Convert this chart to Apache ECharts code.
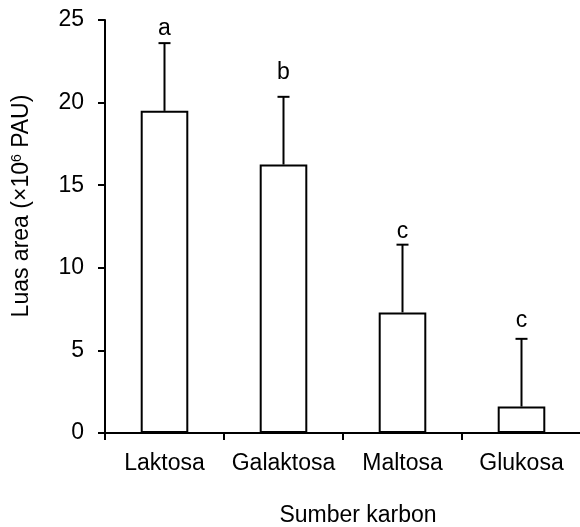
<!DOCTYPE html>
<html><head><meta charset="utf-8">
<script src="https://cdn.jsdelivr.net/npm/echarts@6/dist/echarts.min.js"></script>
<style>html,body{margin:0;padding:0;background:#fff;overflow:hidden}#c{width:580px;height:527px}</style>
</head><body><div id="c"></div>
<script>
const categories = ['Laktosa', 'Galaktosa', 'Maltosa', 'Glukosa'];
const means = [19.5, 16.25, 7.3, 1.6];
const errors = [4.1, 4.1, 4.1, 4.1];
const letters = ['a', 'b', 'c', 'c'];
const letterBaseline = [24.1, 21.4, 11.8, 6.4];
const yTicks = [0, 5, 10, 15, 20, 25];
const xTitle = 'Sumber karbon';
const yTitle = 'Luas area (×10{sup|6} PAU)';

const chart = echarts.init(document.getElementById('c'));
const font = 'Liberation Sans, Arial, sans-serif';
const FS = 23;
chart.setOption({
  animation: false,
  graphic: [
    { type: 'text', x: 358, y: 516, style: { text: xTitle, fill: '#000', fontSize: FS, fontFamily: font, align: 'center', verticalAlign: 'middle' } },
    { type: 'text', x: 22, y: 206, rotation: Math.PI / 2,
      style: { text: yTitle, fill: '#000', fontSize: FS, fontFamily: font, align: 'center', verticalAlign: 'middle',
        rich: { sup: { fontSize: 14, fontFamily: font, fill: '#000', verticalAlign: 'top', padding: [0, 0, 10, 0] } } } }
  ],
  grid: { left: 105, width: 476, top: 20, height: 413, containLabel: false, outerBoundsMode: 'none' },
  xAxis: {
    type: 'category', data: categories,
    axisLine: { lineStyle: { color: '#000', width: 2 } },
    axisTick: { show: true, interval: 0, length: 7, lineStyle: { color: '#000', width: 2 }, alignWithLabel: false },
    axisLabel: { interval: 0, color: '#000', fontSize: FS, fontFamily: font, margin: 19 }
  },
  yAxis: {
    type: 'value', min: yTicks[0], max: yTicks[yTicks.length - 1], interval: 5,
    splitLine: { show: false },
    axisLine: { show: true, lineStyle: { color: '#000', width: 2 } },
    axisTick: { show: true, length: 7, lineStyle: { color: '#000', width: 2 } },
    axisLabel: { color: '#000', fontSize: FS, fontFamily: font, margin: 21 }
  },
  series: [
    {
      type: 'bar', data: means, barWidth: '40%',
      itemStyle: { color: '#fff', borderColor: '#000', borderWidth: 2 },
      z: 2
    },
    {
      type: 'custom', z: 1,
      data: means.map((m, i) => [i, m, m + errors[i], letterBaseline[i]]),
      renderItem: function (params, api) {
        const x = api.value(0);
        const base = api.coord([x, api.value(1)]);
        const top = api.coord([x, api.value(2)]);
        const lab = api.coord([x, api.value(3)]);
        const hw = 6;
        return {
          type: 'group',
          children: [
            { type: 'line', shape: { x1: base[0], y1: base[1], x2: top[0], y2: top[1] }, style: { stroke: '#000', lineWidth: 2 } },
            { type: 'line', shape: { x1: top[0] - hw, y1: top[1], x2: top[0] + hw, y2: top[1] }, style: { stroke: '#000', lineWidth: 2 } },
            { type: 'text', x: lab[0], y: lab[1] + 5, style: { text: letters[params.dataIndex], fill: '#000', fontSize: FS, fontFamily: font, align: 'center', verticalAlign: 'bottom' } }
          ]
        };
      }
    }
  ]
});
</script></body></html>
